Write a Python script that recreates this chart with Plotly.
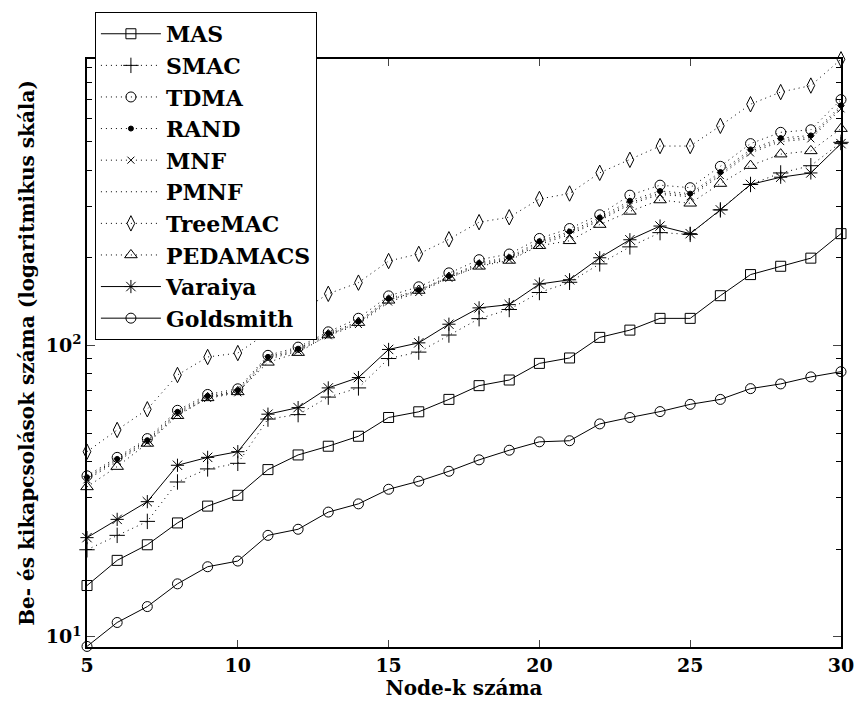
import math
import plotly.graph_objects as go

nodes = list(range(5, 31))

mas = [15.0, 18.3, 20.7, 24.6, 28.1, 30.6, 37.5, 42.1, 45.1, 48.8, 56.6, 59.2, 65.3,
       72.8, 76.1, 86.8, 90.6, 106.6, 112.9, 123.9, 123.9, 148.2, 175.1, 187.0, 199.4, 242.0]
smac = [19.9, 22.3, 24.9, 34.0, 37.7, 39.4, 55.9, 57.9, 66.5, 71.5, 90.2, 94.9, 108.6,
        123.6, 132.9, 152.0, 164.8, 190.6, 218.0, 244.0, 240.6, 292.0, 357.0, 391.0, 414.0, 498.0]
tdma = [35.7, 41.3, 47.9, 59.9, 67.9, 71.0, 92.5, 98.7, 111.4, 124.0, 148.0, 159.0, 177.5,
        197.0, 206.0, 233.0, 252.0, 281.0, 328.0, 355.0, 348.0, 412.0, 493.0, 539.0, 550.0, 698.0]
rand = [35.3, 40.8, 47.3, 59.2, 67.1, 70.2, 91.4, 97.5, 110.1, 121.0, 145.0, 155.0, 173.0,
        192.0, 201.0, 228.0, 246.0, 275.0, 314.0, 339.0, 332.0, 394.0, 471.0, 515.0, 526.0, 667.0]
mnf = [34.6, 40.0, 46.4, 58.0, 65.8, 68.8, 89.6, 95.6, 108.0, 118.0, 141.0, 152.0, 170.0,
       188.0, 197.0, 222.0, 240.0, 268.0, 305.0, 330.0, 324.0, 383.0, 458.0, 501.0, 512.0, 649.0]
pmnf = [35.0, 40.4, 46.9, 58.6, 66.4, 69.5, 90.5, 96.5, 109.0, 119.5, 143.0, 153.5, 171.5,
        190.0, 199.0, 225.0, 243.0, 271.0, 309.0, 334.0, 328.0, 388.0, 464.0, 508.0, 518.0, 658.0]
treemac = [43.2, 51.3, 60.4, 79.2, 91.3, 94.2, 111.0, 129.0, 150.4, 164.3, 194.9, 206.2, 231.5,
           265.0, 275.5, 318.2, 332.4, 391.4, 433.7, 483.6, 483.6, 567.5, 673.0, 741.0, 780.0, 960.0]
pedamacs = [32.7, 38.4, 46.1, 57.4, 66.1, 69.3, 87.5, 94.5, 108.6, 119.8, 142.9, 154.4, 171.1,
            186.9, 195.8, 220.0, 228.7, 260.0, 288.5, 315.7, 307.6, 359.5, 414.3, 453.6, 465.4, 554.8]
varaiya = [21.9, 25.3, 29.1, 38.8, 41.3, 43.2, 58.1, 61.2, 71.5, 77.6, 96.9, 102.1, 118.3,
           134.6, 138.1, 162.5, 168.1, 200.0, 230.6, 257.0, 242.0, 292.0, 357.0, 378.0, 391.0, 493.0]
goldsmith = [9.27, 11.2, 12.7, 15.2, 17.4, 18.2, 22.3, 23.4, 26.8, 28.6, 32.1, 34.2, 37.0,
             40.5, 43.7, 46.7, 47.1, 53.8, 56.6, 59.3, 62.8, 65.3, 71.1, 73.8, 78.0, 81.3]

x_ticks = [5, 10, 15, 20, 25, 30]
y_major = [10, 100]
y_major_text = ["10<sup>1</sup>", "10<sup>2</sup>"]
y_minor = [20, 30, 40, 50, 60, 70, 80, 90, 200, 300, 400, 500, 600, 700, 800, 900]

DOT = "1px,4px"
series = [
    ("MAS", mas, "solid", "square-open", 10),
    ("SMAC", smac, DOT, "cross-thin-open", 11),
    ("TDMA", tdma, DOT, "circle-open", 10),
    ("RAND", rand, DOT, "circle", 5),
    ("MNF", mnf, DOT, "x-thin-open", 7),
    ("PMNF", pmnf, DOT, None, 0),
    ("TreeMAC", treemac, DOT, "diamond-tall-open", 11),
    ("PEDAMACS", pedamacs, DOT, "triangle-up-open", 11),
    ("Varaiya", varaiya, "solid", "asterisk-open", 11),
    ("Goldsmith", goldsmith, "solid", "circle-open", 10),
]

fig = go.Figure()
for name, vals, dash, sym, size in series:
    if sym is None:
        mode = "lines"
        marker = None
    else:
        mode = "lines+markers"
        marker = dict(symbol=sym, size=size, color="black",
                      line=dict(color="black", width=1))
    fig.add_trace(go.Scatter(
        x=nodes, y=vals, name=name, mode=mode,
        line=dict(color="black", width=1, dash=dash),
        marker=marker, cliponaxis=False,
    ))

all_vals = mas + smac + tdma + rand + mnf + pmnf + treemac + pedamacs + varaiya + goldsmith
ylo = math.log10(min(all_vals)) - 0.002
yhi = math.log10(max(all_vals)) + 0.001

font_family = "DejaVu Serif"

fig.update_layout(
    width=866, height=708,
    margin=dict(l=87, r=17, t=48, b=61),
    paper_bgcolor="white", plot_bgcolor="white",
    font=dict(family=font_family, color="black", size=20, weight="bold"),
    showlegend=True,
    legend=dict(
        x=0.0105, y=1.080, xanchor="left", yanchor="top",
        bgcolor="white", bordercolor="black", borderwidth=1,
        font=dict(family=font_family, size=22, color="black", weight="bold"),
        itemwidth=60,
    ),
    xaxis=dict(
        range=[5, 30], tickvals=x_ticks, ticks="inside", ticklen=7,
        showline=True, linecolor="black", linewidth=1.5, mirror="allticks",
        showgrid=False, zeroline=False,
        tickfont=dict(family=font_family, size=19, color="black", weight="bold"),
        title=dict(text="Node-k száma", standoff=4,
                   font=dict(family=font_family, size=20, color="black", weight="bold")),
    ),
    yaxis=dict(
        type="log", range=[ylo, yhi],
        tickvals=y_major, ticktext=y_major_text, ticks="inside", ticklen=8,
        minor=dict(tickvals=y_minor, ticks="inside", ticklen=5, tickcolor="black"),
        showline=True, linecolor="black", linewidth=1.5, mirror="allticks",
        showgrid=False, zeroline=False,
        tickfont=dict(family=font_family, size=19, color="black", weight="bold"),
        title=dict(text="Be- és kikapcsolások száma (logaritmikus skála)", standoff=6,
                   font=dict(family=font_family, size=20, color="black", weight="bold")),
    ),
)

fig.write_html("out.html")
